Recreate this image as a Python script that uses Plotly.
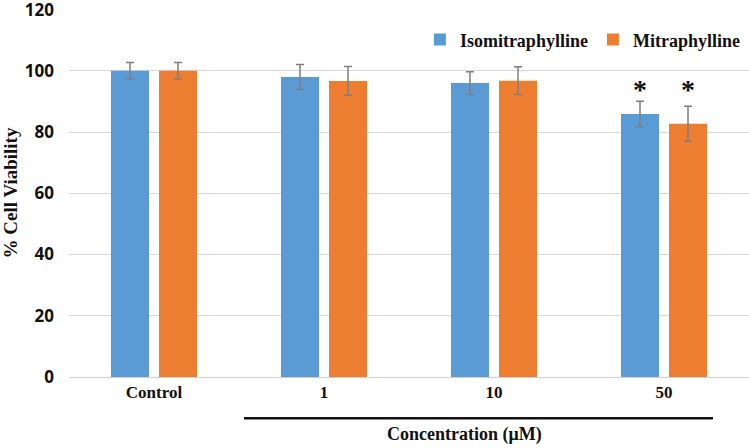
import plotly.graph_objects as go

categories = ["Control", "1", "10", "50"]
iso_values = [100, 98.0, 96.0, 85.9]
iso_err = [2.7, 4.1, 3.7, 4.2]
mit_values = [100, 96.7, 96.8, 82.7]
mit_err = [2.7, 4.7, 4.5, 5.7]
y_ticks = [0, 20, 40, 60, 80, 100, 120]
sig_category = "50"
sig_y = 94

fig = go.Figure()
fig.add_trace(go.Bar(
    name="<b>Isomitraphylline</b>", x=categories, y=iso_values,
    marker=dict(color="#5B9BD5", line=dict(width=0)),
    error_y=dict(type="data", array=iso_err, color="#7f7f7f", thickness=1.5, width=4),
))
fig.add_trace(go.Bar(
    name="<b>Mitraphylline</b>", x=categories, y=mit_values,
    marker=dict(color="#ED7D31", line=dict(width=0)),
    error_y=dict(type="data", array=mit_err, color="#7f7f7f", thickness=1.5, width=4),
))

sig_idx = categories.index(sig_category)
for shift in (-24, 24):
    fig.add_annotation(x=sig_idx, y=sig_y, xref="x", yref="y", text="<b>*</b>",
                       showarrow=False, xshift=shift,
                       font=dict(family="Liberation Serif", size=28, color="#111"))

# concentration bracket line and title
fig.add_shape(type="line", xref="paper", yref="paper", x0=(244 - 69) / 680, x1=(713 - 69) / 680,
              y0=-0.112, y1=-0.112, line=dict(color="#111", width=2.5))
fig.add_annotation(text="<b>Concentration (μM)</b>", xref="paper", yref="paper",
                   x=(464 - 69) / 680, y=-0.157, showarrow=False, yanchor="middle",
                   font=dict(family="Liberation Serif", size=18, color="#111"))

fig.update_layout(
    width=749, height=448,
    margin=dict(l=69, r=0, t=9, b=71, autoexpand=False),
    paper_bgcolor="white", plot_bgcolor="white",
    barmode="group", bargap=0.435, bargroupgap=0.208,
    showlegend=True,
    legend=dict(orientation="h", x=0.516, y=0.916, xanchor="left", yanchor="middle",
                font=dict(family="Liberation Serif", size=18, color="#111"),
                bgcolor="rgba(0,0,0,0)", itemwidth=30, traceorder="normal"),
    xaxis=dict(
        type="category", range=[-0.5, 3.5], automargin=False,
        showgrid=False, showline=True, linecolor="#d0d0d0", linewidth=1,
        ticks="", tickangle=0, tickfont=dict(family="Liberation Serif", size=17, color="#111"),
        tickvals=categories, ticktext=[f"<b>{c}</b>" for c in categories],
    ),
    yaxis=dict(
        range=[0, 120.2], automargin=False, tickvals=y_ticks,
        ticktext=[f"<b>{v}</b>" for v in y_ticks], ticklabeloverflow="allow",
        showgrid=True, gridcolor="#d9d9d9", gridwidth=1,
        zeroline=False, showline=False, ticks="",
        tickfont=dict(family="Open Sans", size=17, color="#111"),
        ticklabelstandoff=14,
        title=dict(text="<b>% Cell Viability</b>", standoff=10,
                   font=dict(family="Liberation Serif", size=19, color="#111")),
    ),
)

fig.write_html("out.html", post_script="document.body.style.margin='0';",
               config={"displayModeBar": False})
